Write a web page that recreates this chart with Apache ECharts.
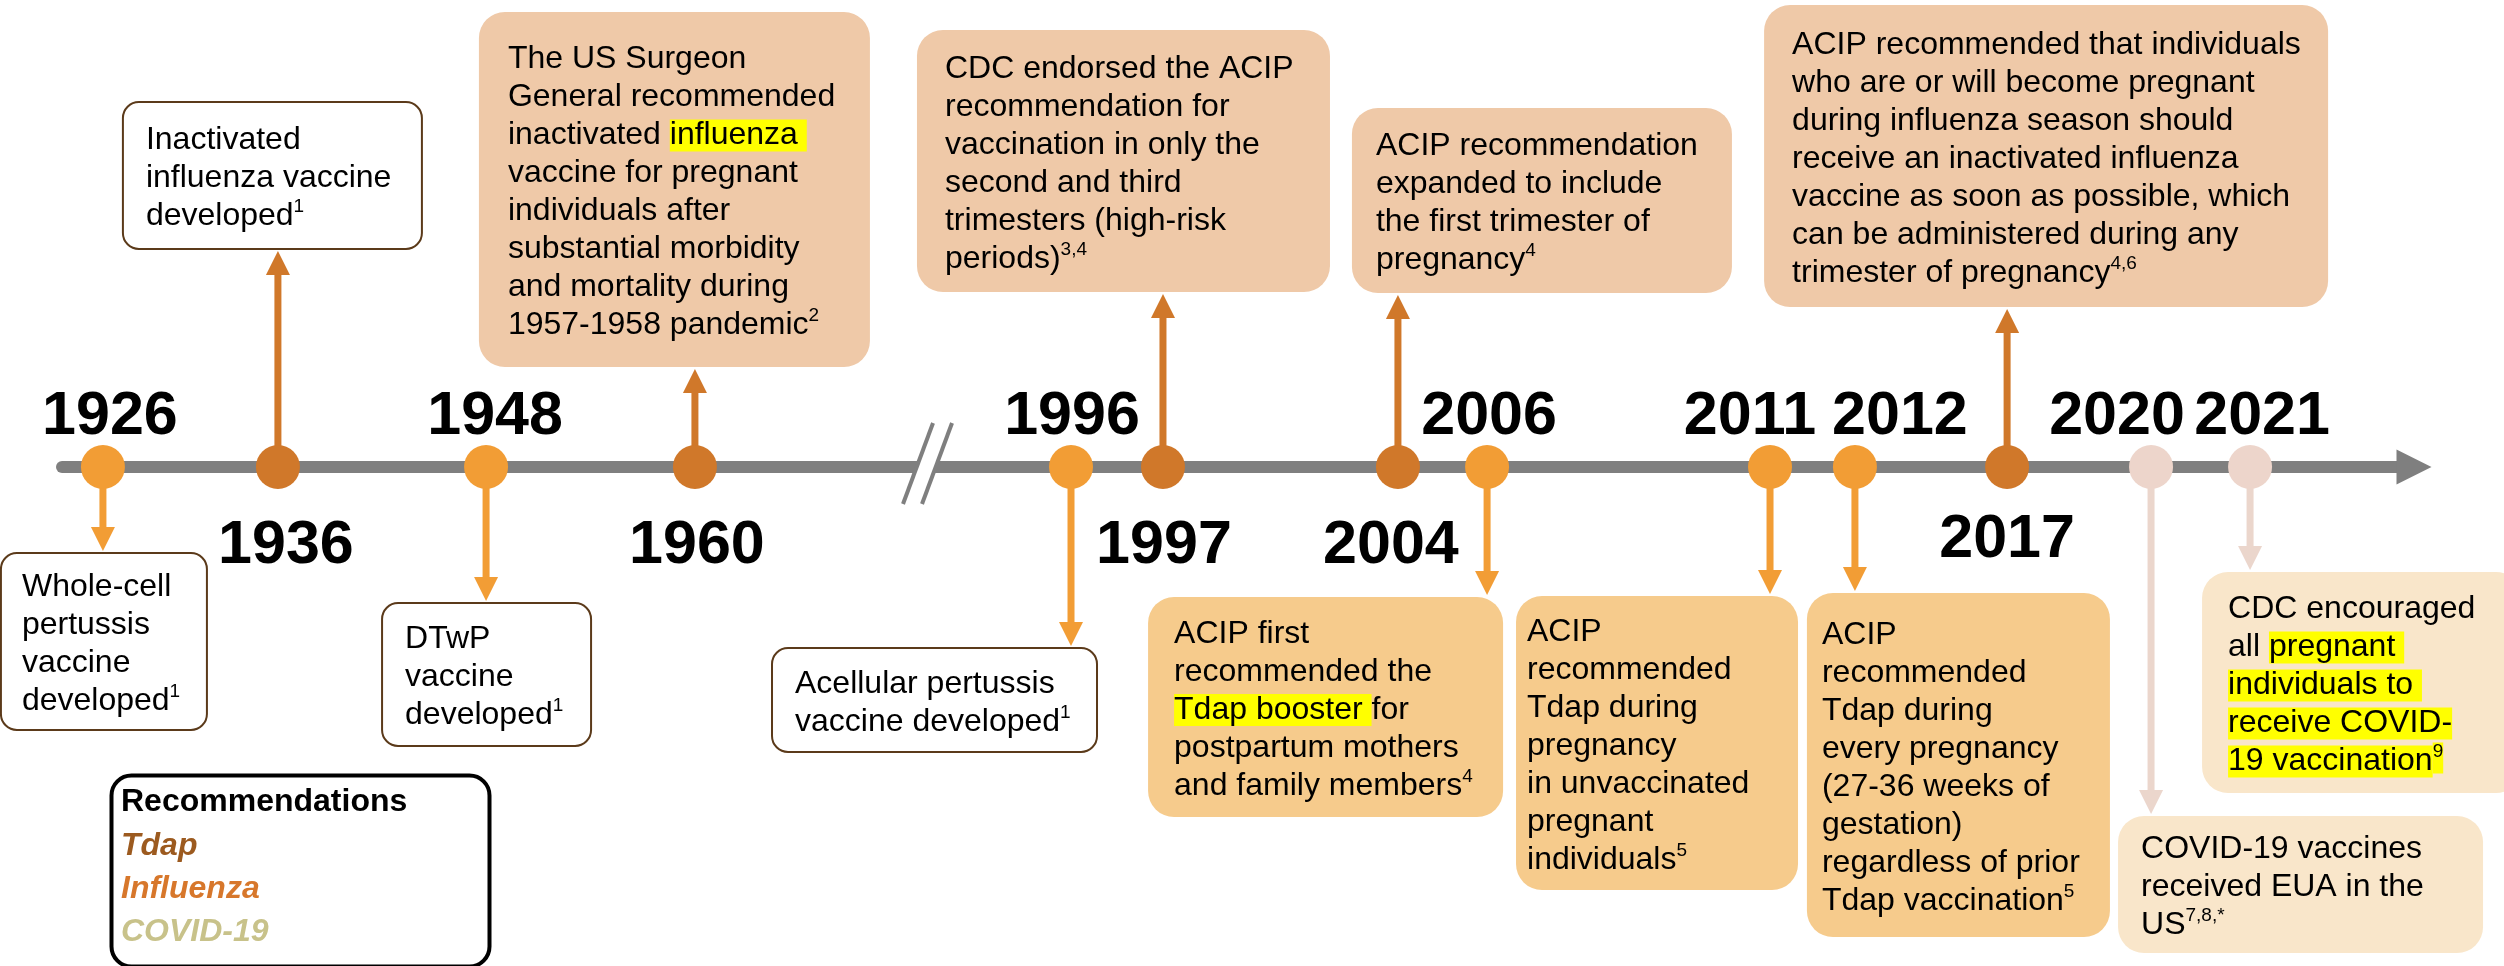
<!DOCTYPE html>
<html><head><meta charset="utf-8">
<script src="https://cdn.jsdelivr.net/npm/echarts@6/dist/echarts.min.js"></script>
<style>html,body{margin:0;padding:0;background:#fff}#c{width:2504px;height:966px}</style>
</head><body><div id="c"></div>
<script>
// ---------------- DATA ----------------
const years = ['1926','1936','1948','1960','1996','1997','2004','2006','2011','2012','2017','2020','2021'];
const eventTypes = ['Tdap','Influenza','Tdap','Influenza','Tdap','Influenza','Influenza','Tdap','Tdap','Tdap','Influenza','COVID-19','COVID-19'];
// position of each event along the drawn (not-to-scale) timeline, 0-100
const timelinePos = [1.74, 9.18, 18.03, 26.91, 42.90, 46.81, 56.80, 60.59, 72.62, 76.23, 82.70, 88.82, 93.03];
const breakPos = [36.82];
const seriesNames = ['Tdap', 'Influenza', 'COVID-19'];
const legendTitle = 'Recommendations';
const eventTexts = [
  'Whole-cell\npertussis\nvaccine\ndeveloped{sup|1}',
  'Inactivated\ninfluenza vaccine\ndeveloped{sup|1}',
  'DTwP\nvaccine\ndeveloped{sup|1}',
  'The US Surgeon\nGeneral recommended\ninactivated {hl|influenza }\nvaccine for pregnant\nindividuals after\nsubstantial morbidity\nand mortality during\n1957-1958 pandemic{sup|2}',
  'Acellular pertussis\nvaccine developed{sup|1}',
  'CDC endorsed the ACIP\nrecommendation for\nvaccination in only the\nsecond and third\ntrimesters (high-risk\nperiods){sup|3,4}',
  'ACIP recommendation\nexpanded to include\nthe first trimester of\npregnancy{sup|4}',
  'ACIP first\nrecommended the\n{hl|Tdap booster }for\npostpartum mothers\nand family members{sup|4}',
  'ACIP\nrecommended\nTdap during\npregnancy\nin unvaccinated\npregnant\nindividuals{sup|5}',
  'ACIP\nrecommended\nTdap during\nevery pregnancy\n(27-36 weeks of\ngestation)\nregardless of prior\nTdap vaccination{sup|5}',
  'ACIP recommended that individuals\nwho are or will become pregnant\nduring influenza season should\nreceive an inactivated influenza\nvaccine as soon as possible, which\ncan be administered during any\ntrimester of pregnancy{sup|4,6}',
  'COVID-19 vaccines\nreceived EUA in the\nUS{sup|7,8,*}',
  'CDC encouraged\nall {hl|pregnant }\n{hl|individuals to }\n{hl|receive COVID-}\n{hl|19 vaccination}{hlsup|9}'
];

// ---------------- LAYOUT / STYLE ----------------
// box: [dx from dot, dy from axis, width, height]; pad: text inset; lab: [dx, dy] of year label
const layout = [
  {box:[-102,  86, 206, 177], pad:21, lab:[7, -50], white:true},
  {box:[-155,-365, 299, 147], pad:23, lab:[8, 79], white:true},
  {box:[-104, 136, 209, 143], pad:23, lab:[9, -50], white:true},
  {box:[-216,-455, 391, 355], pad:29, lab:[2, 79]},
  {box:[-299, 181, 325, 104], pad:23, lab:[1, -50], white:true},
  {box:[-246,-437, 413, 262], pad:28, lab:[1, 79]},
  {box:[ -46,-359, 380, 185], pad:24, lab:[-7, 79]},
  {box:[-339, 130, 355, 220], pad:26, lab:[2, -50]},
  {box:[-254, 129, 282, 294], pad:11, lab:[-20, -50]},
  {box:[ -48, 126, 303, 344], pad:15, lab:[45, -50]},
  {box:[-243,-462, 564, 302], pad:28, lab:[0, 73]},
  {box:[ -33, 349, 365, 137], pad:23, lab:[-34, -50]},
  {box:[ -48, 105, 320, 221], pad:26, lab:[12, -50]}
];
const typeStyle = {
  'Tdap':      {dot:'#F29D35', arrow:'#F29D35', box:'#F6CB8C', legend:'#9C5A1F'},
  'Influenza': {dot:'#D0782A', arrow:'#D0782A', box:'#EFC9A8', legend:'#D7772B'},
  'COVID-19':  {dot:'#EDD5CB', arrow:'#EBD6CC', box:'#F9E6CA', legend:'#C8C28A'}
};
const FONT = '"Liberation Sans", Arial, Helvetica, sans-serif';
const LH = 38;
const rich = {
  sup:   {fontFamily: FONT, fontSize: 19, lineHeight: 26, verticalAlign: 'top', fill: '#000'},
  hl:    {fontFamily: FONT, fontSize: 32, lineHeight: LH, backgroundColor: '#FFFF00', fill: '#000'},
  hlsup: {fontFamily: FONT, fontSize: 19, lineHeight: 26, verticalAlign: 'top', backgroundColor: '#FFFF00', padding: [0,0,12,0], fill: '#000'}
};

function renderEvent(params, api) {
  const i = api.value(1);
  const pt = api.coord([api.value(0), 0]);
  const x = pt[0], y = pt[1];
  const L = layout[i];
  const st = typeStyle[eventTypes[i]];
  const bx = x + L.box[0], by = y + L.box[1], w = L.box[2], h = L.box[3];
  const up = by < y;
  const tipY = up ? by + h + 2 : by - 2;
  const headH = 24, headW = 24, stemW = 7;
  const ch = [];
  if (up) {
    ch.push({type:'rect', shape:{x:x-stemW/2, y:tipY+headH-1, width:stemW, height:y-(tipY+headH-1)}, style:{fill:st.arrow}});
    ch.push({type:'polygon', shape:{points:[[x-headW/2, tipY+headH],[x+headW/2, tipY+headH],[x, tipY]]}, style:{fill:st.arrow}});
  } else {
    ch.push({type:'rect', shape:{x:x-stemW/2, y:y, width:stemW, height:(tipY-headH+1)-y}, style:{fill:st.arrow}});
    ch.push({type:'polygon', shape:{points:[[x-headW/2, tipY-headH],[x+headW/2, tipY-headH],[x, tipY]]}, style:{fill:st.arrow}});
  }
  ch.push({type:'circle', shape:{cx:x, cy:y, r:22}, style:{fill:st.dot}});
  ch.push({type:'rect', shape:{x:bx, y:by, width:w, height:h, r: L.white ? 16 : 26},
    style: L.white ? {fill:'#FFFFFF', stroke:'#5B3A1A', lineWidth:2} : {fill:st.box}});
  ch.push({type:'text', style:{
    text: eventTexts[i], x: bx + L.pad, y: by + h/2 + 3,
    fontFamily: FONT, fontSize: 32, lineHeight: LH, fill:'#000',
    align:'left', verticalAlign:'middle', rich: rich
  }});
  ch.push({type:'text', style:{
    text: years[i], x: x + L.lab[0], y: y + L.lab[1],
    fontFamily: FONT, fontSize: 61, fontWeight:'bold', fill:'#000',
    align:'center', verticalAlign:'middle'
  }});
  return {type:'group', children: ch};
}

function renderBreak(params, api) {
  const pt = api.coord([api.value(0), 0]);
  const x = pt[0], y = pt[1];
  const a1 = [x+5, y-44], b1 = [x-25, y+37], a2 = [x+24, y-44], b2 = [x-6, y+37];
  return {type:'group', children:[
    {type:'polygon', shape:{points:[a1, a2, b2, b1]}, style:{fill:'#FFFFFF'}},
    {type:'line', shape:{x1:a1[0], y1:a1[1], x2:b1[0], y2:b1[1]}, style:{stroke:'#7F7F7F', lineWidth:4}},
    {type:'line', shape:{x1:a2[0], y1:a2[1], x2:b2[0], y2:b2[1]}, style:{stroke:'#7F7F7F', lineWidth:4}}
  ]};
}

const series = seriesNames.map(function (name) {
  const data = [];
  years.forEach(function (yr, i) { if (eventTypes[i] === name) data.push([timelinePos[i], i]); });
  return {
    name: name, type: 'custom', coordinateSystem: 'cartesian2d', clip: false,
    dimensions: ['pos', 'idx'], encode: {x: 0},
    itemStyle: {color: typeStyle[name].legend},
    renderItem: renderEvent, data: data, z: 5
  };
});
series.unshift({
  name: 'break', type: 'custom', coordinateSystem: 'cartesian2d', clip: false,
  dimensions: ['pos'], encode: {x: 0}, renderItem: renderBreak,
  data: breakPos.map(function (p) { return [p]; }), z: 3
});

const chart = echarts.init(document.getElementById('c'), null, {renderer: 'canvas'});
chart.setOption({
  animation: false,
  backgroundColor: '#FFFFFF',
  grid: {left: 62, right: 90, top: 0, bottom: 32},
  xAxis: {
    type: 'value', min: 0, max: 100,
    axisLine: {show: true, onZero: true, lineStyle: {color: '#7F7F7F', width: 12},
      symbol: ['none', 'triangle'], symbolSize: [35, 35]},
    axisTick: {show: false}, axisLabel: {show: false}, splitLine: {show: false}
  },
  yAxis: {type: 'value', min: -1, max: 1, show: false},
  title: {
    text: legendTitle, left: 121, top: 786, padding: 0,
    textStyle: {fontFamily: FONT, fontSize: 32, fontWeight: 'bold', color: '#000', lineHeight: 32}
  },
  legend: {
    orient: 'vertical', left: 116, top: 830, padding: 0,
    itemWidth: 0, itemHeight: 32, itemGap: 11, icon: 'rect', selectedMode: false,
    data: seriesNames.map(function (n) {
      return {name: n, textStyle: {color: typeStyle[n].legend}};
    }),
    textStyle: {fontFamily: FONT, fontSize: 32, fontWeight: 'bold', fontStyle: 'italic', lineHeight: 32}
  },
  graphic: [{
    type: 'rect', left: 109, top: 773, z: 10,
    shape: {width: 378, height: 191, r: 20},
    style: {fill: 'none', stroke: '#000', lineWidth: 4}
  }],
  series: series
});
</script></body></html>
